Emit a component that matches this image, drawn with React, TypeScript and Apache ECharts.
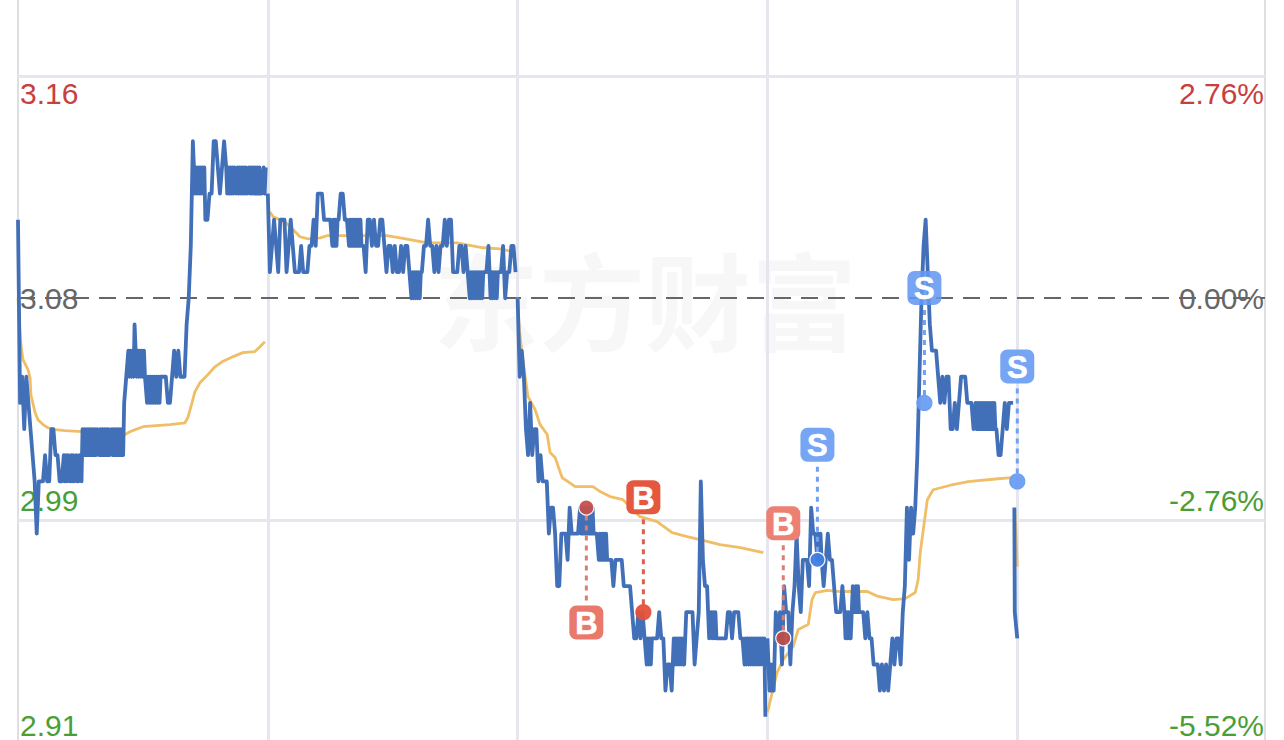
import React, { useEffect, useRef } from "react";
import * as echarts from "echarts";

// Last price in hundredths of a yuan, one entry per half minute, per session.
// A pair holds the two readings seen inside that half minute.
const dayOnePrices: (number | number[])[] = [311,304,305,303,305,304,303,302,301,299,301,301,301,302,301,301,303,303,302,302,301,301,
  [302,301],[302,301],302,[301,302],[301,302],301,[302,301],[301,302],[302,301],
  [303,302],[303,302],[303,302],[303,302],[303,302],[303,302],[303,302],303,[302,303],[302,303],[302,303],[302,303],[302,303],302,[303,302],[303,302],[303,302],[303,302],[303,302],[303,302],
  304,305,[306,305],[306,305],[306,305],307,[305,306],[305,306],[305,306],[305,306],305,
  [304,305],[304,305],[304,305],[304,305],[304,305],[304,305],[304,305],305,305,305,304,304,305,306,305,306,305,305,305,307,308,310,314,
  [312,313],[312,313],[312,313],[312,313],[312,313],311,311,312,312,314,314,313,312,313,314,
  [313,312],[313,312],[313,312],[313,312],313,[312,313],[312,313],[312,313],[312,313],[312,313],312,[313,312],[313,312],[313,312],[313,312],[313,312],[313,312],312,[313,312],313];
const dayTwoPrices: (number | number[])[] = [312,309,310,311,310,309,311,311,311,309,310,311,310,309,309,309,310,309,309,309,310,310,311,310,312,312,312,311,311,311,311,
  [310,311],[310,311],[310,311],311,312,312,311,311,[310,311],[310,311],[310,311],[310,311],[310,311],[310,311],310,310,309,311,311,310,311,310,310,311,311,310,309,310,310,309,310,309,309,310,309,310,310,309,
  [308,309],[308,309],[308,309],[308,309],[308,309],309,310,310,311,310,310,309,310,309,310,310,311,310,311,311,309,309,309,310,310,309,310,309,
  [308,309],[308,309],[308,309],[308,309],[308,309],[308,309],[308,309],309,309,310,[308,309],[308,309],[308,309],[308,309],309,309,310,308,309,309,310,310,309];
const dayThreePrices: (number | number[])[] = [308,305,306,305,303,302,304,302,303,303,301,302,301,301,301,299,300,300,299,297,297,299,299,299,298,300,299,299,299,299,
  [300,299],[300,299],[300,299],[300,299],[300,299],[300,299],[300,299],299,299,[298,299],[298,299],[298,299],[298,299],298,298,298,297,298,298,298,298,297,297,297,297,296,295,295,296,295,296,295,
  [294,295],[294,295],[294,295],295,295,295,296,295,295,293,294,294,293,[295,294],[295,294],[295,294],[295,294],[295,294],294,296,296,296,296,294,295,296,301,298,297,297,295,[296,295],[296,295],[296,295],295,295,295,295,295,296,296,295,296,296,296,295,295,
  [294,295],[294,295],[294,295],[294,295],[294,295],[294,295],[294,295],[294,295],[294,295],[294,295],292];
const dayFourPrices: (number | number[])[] = [295,[293,294],[293,294],293,296,295,296,294,297,296,296,294,296,297,299,297,296,298,298,298,297,300,299,299,[298,299],[298,299],298,297,298,299,298,298,297,296,296,296,297,[296,295],[296,295],[296,295],295,297,[296,297],[296,297],296,296,296,295,296,295,295,294,294,294,293,294,293,294,293,294,295,294,295,295,294,296,297,300,298,300,299,300,302,305,308,310,311,309,307,306,306,306,305,304,305,304,305,305,303,303,304,303,304,305,305,305,304,304,304,303,
  [304,303],[304,303],[304,303],[304,303],[304,303],[304,303],[304,303],[304,303],[304,303],[304,303],303,302,302,303,304,303,304,304,304];
const dayFiveMinutes = [239.3, 239.4, 240];
const dayFivePrices = [300, 296, 295];

// Average price line, minute of the chart and price, per session
const avgOneMinutes = [0,0.24,0.7,1.2,2.4,2.9,3.1,4.1,4.8,6,7.2,8.9,11.3,19.7,25.7,26.9,30,36.5,40.1,40.8,41.8,42.5,43.7,45.6,47.3,49,51.7,54,56.9,58.1,59.3];
const avgOnePrices = [3.0802,3.0718,3.0622,3.0565,3.0527,3.0496,3.0431,3.0363,3.0336,3.0317,3.0305,3.0298,3.0294,3.0286,3.0279,3.029,3.0309,3.0317,3.0324,3.0344,3.0401,3.0443,3.0477,3.0508,3.0538,3.0557,3.0577,3.0592,3.0596,3.0615,3.0634];
const avgTwoMinutes = [60.5,61.3,64.1,66.1,67.7,69.7,72.6,74.2,79,88.6,91.8,95.4,98.3,105.5,107.9,111.7,115.8,118.9];
const avgTwoPrices = [3.113,3.1111,3.1092,3.1062,3.1035,3.1027,3.1031,3.1039,3.1039,3.1039,3.1031,3.102,3.1012,3.1012,3.1004,3.0993,3.0989,3.0978];
const avgThreeMinutes = [120,120.4,121.1,121.8,122.5,124.2,125.4,127.1,127.8,129,130.7,132.1,133.8,138.1,139.8,142.2,145.3,149.4,153.5,157.1,160.7,163.8,168.6,173.5,179];
const avgThreePrices = [3.0802,3.068,3.0584,3.05,3.0424,3.0374,3.0317,3.0279,3.021,3.0191,3.0114,3.0099,3.008,3.008,3.0061,3.0042,3.003,2.9965,2.9946,2.9904,2.9889,2.9877,2.9858,2.9847,2.9828];
const avgFourMinutes = [180,182.3,183.8,186.2,187.4,189.8,190.7,191.5,194.4,197.5,204,206.6,210.2,213.1,215.5,216.2,216.7,218.4,219.8,224.6,228.2,235.4,238.8];
const avgFourPrices = [2.9217,2.9369,2.9419,2.9469,2.9534,2.9553,2.9648,2.9675,2.9683,2.9679,2.9679,2.966,2.9648,2.9652,2.9675,2.9725,2.9828,3.003,3.0068,3.0088,3.0099,3.011,3.0114];
const avgFiveMinutes = [239.4, 240];
const avgFivePrices = [2.9992, 2.9774];

// Trades
const tradeMinutes = [136.5, 150.2, 183.8, 192, 217.7, 240];
const tradePrices = [3.0, 2.96, 2.95, 2.98, 3.04, 3.01];
const tradeSides = ["B", "B", "B", "S", "S", "S"];

// Axis ticks
const priceTicks = [3.165, 3.08, 2.995, 2.91];
const priceLabels = ["3.16", "3.08", "2.99", "2.91"];
const percentLabels = ["2.76%", "0.00%", "-2.76%", "-5.52%"];
const labelStyles = ["up", "flat", "down", "floor"];
const solidLevels = [3.165, 2.995];
const preClose = 3.08;
const sessionMinutes = [0, 60, 120, 180, 240];

const FONT = "Liberation Sans";
const GAP_TILE = 115;

const richStyles = {
  up: { color: "#C8403E", fontFamily: FONT, fontSize: 30, padding: [36, 0, 0, 0] },
  flat: { color: "#666666", fontFamily: FONT, fontSize: 30 },
  down: { color: "#4A9E36", fontFamily: FONT, fontSize: 30, padding: [0, 0, 40, 0] },
  floor: { color: "#4A9E36", fontFamily: FONT, fontSize: 30, padding: [0, 0, 36, 0] },
};

function labelFor(value: number, texts: string[]) {
  const i = priceTicks.findIndex((t) => Math.abs(t - value) < 1e-6);
  return i < 0 ? "" : `{${labelStyles[i]}|${texts[i]}}`;
}

function priceSeriesData() {
  const days = [dayOnePrices, dayTwoPrices, dayThreePrices, dayFourPrices];
  const out: any[] = [];
  days.forEach((vals, d) => {
    vals.forEach((entry, i) => {
      const readings = Array.isArray(entry) ? entry : [entry];
      readings.forEach((c, k) => out.push([sessionMinutes[d] + i * 0.5 + k * 0.25, c / 100]));
    });
    out.push([sessionMinutes[d] + vals.length * 0.5, null]);
  });
  dayFivePrices.forEach((c, i) => out.push([dayFiveMinutes[i], c / 100]));
  return out;
}

function avgSeriesData() {
  const minutes = [avgOneMinutes, avgTwoMinutes, avgThreeMinutes, avgFourMinutes, avgFiveMinutes];
  const prices = [avgOnePrices, avgTwoPrices, avgThreePrices, avgFourPrices, avgFivePrices];
  const out: any[] = [];
  minutes.forEach((ms, d) => {
    ms.forEach((m, i) => out.push([m, prices[d][i]]));
    if (d < minutes.length - 1) out.push([ms[ms.length - 1] + 0.1, null]);
  });
  return out;
}

const tradeLook = [
  { tile: "#E9796C", dot: "#C4504C", ring: "#ffffff", line: "#DE7C72", below: true, opacity: 1 },
  { tile: "#E4583F", dot: "#E5503B", ring: "#E5503B", line: "#DB5F4E", below: false, opacity: 1 },
  { tile: "#EB8073", dot: "#BC4C4A", ring: "#ffffff", line: "#DE7C72", below: false, opacity: 1 },
  { tile: "#6FA0F3", dot: "#3F7DE0", ring: "#ffffff", line: "#6FA0F3", below: false, opacity: 0.95 },
  { tile: "#6497F1", dot: "#6A9DF2", ring: "#6A9DF2", line: "#6FA0F3", below: false, opacity: 0.88 },
  { tile: "#6FA0F3", dot: "#6A9DF2", ring: "#6A9DF2", line: "#6FA0F3", below: false, opacity: 0.95 },
];

function renderTrade(params: any, api: any) {
  const i = params.dataIndex;
  const [x, y] = api.coord([api.value(0), api.value(1)]);
  const look = tradeLook[i];
  const ty = y + (look.below ? GAP_TILE : -GAP_TILE);
  return {
    type: "group",
    children: [
      {
        type: "line",
        shape: { x1: x, y1: look.below ? y + 8 : y - 8, x2: x, y2: look.below ? ty - 17 : ty + 17 },
        style: { stroke: look.line, lineWidth: 3, lineDash: [5, 5] },
      },
      {
        type: "circle",
        shape: { cx: x, cy: y, r: 7.5 },
        style: { fill: look.dot, stroke: look.ring, lineWidth: 1.2, opacity: 0.95 },
      },
      {
        type: "rect",
        shape: { x: x - 17, y: ty - 17, width: 34, height: 34, r: 7 },
        style: { fill: look.tile, opacity: look.opacity },
      },
      {
        type: "text",
        style: {
          text: tradeSides[i],
          x,
          y: ty + 1,
          fill: "#ffffff",
          stroke: "#ffffff",
          lineWidth: 0.6,
          fontFamily: "Liberation Sans",
          fontWeight: "bold",
          fontSize: 31,
          align: "center",
          verticalAlign: "middle",
        },
      },
    ],
  };
}

export default function App() {
  const ref = useRef<HTMLDivElement>(null);

  useEffect(() => {
    const chart = echarts.init(ref.current!, undefined, { renderer: "svg" });
    const yBase = {
      type: "value",
      min: 2.91,
      max: 3.194,
      splitLine: { show: false },
      axisTick: { show: false },
      axisLine: { show: true, onZero: false, lineStyle: { color: "#D3D4DA", width: 1.5 } },
    };
    chart.setOption({
      animation: false,
      backgroundColor: "#ffffff",
      grid: { left: 18, top: 0, width: 1247, height: 743, show: false },
      graphic: [
        {
          type: "text",
          z: 0,
          x: 645,
          y: 297,
          style: {
            text: "东方财富",
            fontFamily: "Noto Sans CJK SC",
            fontWeight: "bold",
            fontSize: 106,
            fill: "rgba(0,0,0,0.03)",
            align: "center",
            verticalAlign: "middle",
          },
        },
      ],
      xAxis: {
        type: "value",
        min: 0,
        max: 299.5,
        interval: 60,
        axisLine: { show: false },
        axisTick: { show: false },
        axisLabel: { show: false },
        splitLine: {
          show: true,
          showMinLine: false,
          showMaxLine: false,
          lineStyle: { color: "#E5E6EE", width: 3 },
        },
      },
      yAxis: [
        {
          ...yBase,
          position: "left",
          axisLabel: {
            inside: true,
            margin: 2,
            customValues: priceTicks,
            formatter: (v: number) => labelFor(v, priceLabels),
            rich: richStyles,
          },
        },
        {
          ...yBase,
          position: "right",
          axisLabel: {
            inside: true,
            margin: 1,
            customValues: priceTicks,
            formatter: (v: number) => labelFor(v, percentLabels),
            rich: richStyles,
          },
        },
      ],
      series: [
        {
          type: "line",
          name: "levels",
          data: [],
          z: 1,
          silent: true,
          markLine: {
            z: 1,
            silent: true,
            symbol: "none",
            precision: 4,
            label: { show: false },
            data: [
              ...solidLevels.map((v) => ({
                yAxis: v,
                lineStyle: { color: "#E5E6EE", width: 3, type: "solid" },
              })),
              { yAxis: preClose, lineStyle: { color: "#666666", width: 2, type: [17, 10] } },
            ],
          },
        },
        {
          type: "line",
          name: "avg",
          z: 2,
          data: avgSeriesData(),
          showSymbol: false,
          connectNulls: false,
          silent: true,
          lineStyle: { color: "#EFBE66", width: 2.8 },
        },
        {
          type: "line",
          name: "price",
          z: 3,
          data: priceSeriesData(),
          showSymbol: false,
          connectNulls: false,
          silent: true,
          lineStyle: { color: "#4270B8", width: 3.8, join: "round" },
        },
        {
          type: "custom",
          name: "trades",
          z: 4,
          silent: true,
          clip: false,
          renderItem: renderTrade,
          encode: { x: 0, y: 1 },
          data: tradeMinutes.map((m, i) => [m, tradePrices[i]]),
        },
      ],
    });
    return () => chart.dispose();
  }, []);

  return (
    <div
      ref={ref}
      style={{ position: "fixed", left: 0, top: 0, width: 1284, height: 743, background: "#fff" }}
    />
  );
}
